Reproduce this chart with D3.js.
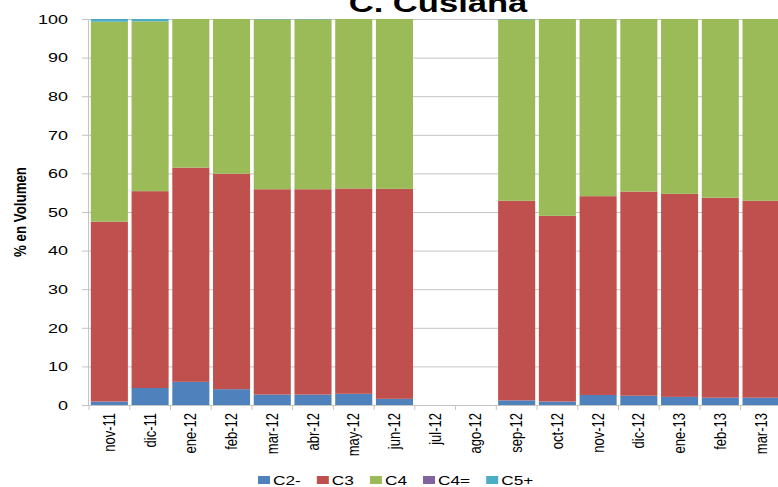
<!DOCTYPE html>
<html>
<head>
<meta charset="utf-8">
<script src="https://cdn.jsdelivr.net/npm/d3@7"></script>
<style>
  body { margin: 0; background: #fff; }
  svg { display: block; font-family: "Liberation Sans", Arial, sans-serif; }
</style>
</head>
<body>
<div id="chart"></div>
<script>
// Data (% en volumen)
const months = ['nov-11', 'dic-11', 'ene-12', 'feb-12', 'mar-12', 'abr-12', 'may-12', 'jun-12',
  'jul-12', 'ago-12', 'sep-12', 'oct-12', 'nov-12', 'dic-12', 'ene-13', 'feb-13', 'mar-13'];
const c2 = [0.9, 4.4, 6.0, 4.1, 2.7, 2.7, 2.9, 1.6, 0, 0, 1.2, 0.9, 2.6, 2.4, 2.1, 1.9, 1.9];
const c3 = [46.6, 51.0, 55.5, 55.8, 53.2, 53.2, 53.2, 54.4, 0, 0, 51.7, 48.1, 51.5, 52.9, 52.6, 51.8, 51.0];
const c4 = [51.8, 44.0, 38.5, 40.1, 44.0, 44.0, 43.9, 44.0, 0, 0, 47.0, 51.0, 45.9, 44.7, 45.3, 46.3, 47.1];
const c4eq = [0, 0, 0, 0, 0, 0, 0, 0, 0, 0, 0, 0, 0, 0, 0, 0, 0];
const c5 = [0.7, 0.6, 0, 0, 0.1, 0.1, 0, 0, 0, 0, 0.1, 0, 0, 0, 0, 0, 0];
const seriesNames = ['C2-', 'C3', 'C4', 'C4=', 'C5+'];
const seriesColors = ['#4f81bd', '#c0504d', '#9bbb59', '#8064a2', '#4bacc6'];
const yTicks = [0, 10, 20, 30, 40, 50, 60, 70, 80, 90, 100];

const svgWidth = 778;
const svgHeight = 487;
const stretch = 1.33; // text in the reference is drawn a bit wide

const table = months.map((m, i) => ({
  month: m, 'C2-': c2[i], 'C3': c3[i], 'C4': c4[i], 'C4=': c4eq[i], 'C5+': c5[i]
}));
const stacked = d3.stack().keys(seriesNames)(table);

const svg = d3.select('#chart')
  .append('svg')
  .attr('width', svgWidth)
  .attr('height', svgHeight);

// Scales
const xScale = d3.scaleBand()
  .domain(months)
  .range([89, 781.4])
  .paddingInner(0.09)
  .paddingOuter(0.045);

const yScale = d3.scaleLinear()
  .domain([0, 100])
  .range([405, 19]);

const color = d3.scaleOrdinal().domain(seriesNames).range(seriesColors);

// Gridlines
svg.append('g')
  .selectAll('line')
  .data(yTicks)
  .enter()
  .append('line')
  .attr('x1', 82)
  .attr('x2', svgWidth)
  .attr('y1', d => yScale(d) + 0.5)
  .attr('y2', d => yScale(d) + 0.5)
  .attr('stroke', '#c4c4c4')
  .attr('stroke-width', 1);

// Axis line on the left
svg.append('line')
  .attr('x1', 88.5).attr('x2', 88.5)
  .attr('y1', yScale(100)).attr('y2', yScale(0))
  .attr('stroke', '#c4c4c4');

// Bars
svg.append('g')
  .selectAll('g')
  .data(stacked)
  .enter()
  .append('g')
  .attr('fill', d => color(d.key))
  .selectAll('rect')
  .data(d => d)
  .enter()
  .append('rect')
  .attr('x', d => xScale(d.data.month))
  .attr('width', xScale.bandwidth())
  .attr('y', d => yScale(d[1]))
  .attr('height', d => yScale(d[0]) - yScale(d[1]));

// Tick marks on the category axis (at band boundaries)
const step = xScale.step();
const x0 = xScale.range()[0];
svg.append('g')
  .selectAll('line')
  .data(d3.range(months.length + 1))
  .enter()
  .append('line')
  .attr('x1', i => x0 + i * step)
  .attr('x2', i => x0 + i * step)
  .attr('y1', yScale(0))
  .attr('y2', yScale(0) + 5)
  .attr('stroke', '#c4c4c4');

// Category labels, rotated
svg.append('g')
  .selectAll('text')
  .data(months)
  .enter()
  .append('text')
  .attr('transform', d => `translate(${xScale(d) + xScale.bandwidth() / 2},413) scale(1.22,1) rotate(-90)`)
  .attr('text-anchor', 'end')
  .attr('dy', '0.35em')
  .style('font-size', '13px')
  .style('fill', '#000')
  .text(d => d);

// Y tick labels
svg.append('g')
  .selectAll('text')
  .data(yTicks)
  .enter()
  .append('text')
  .attr('transform', d => `translate(68,${yScale(d)}) scale(${stretch},1)`)
  .attr('text-anchor', 'end')
  .attr('dy', '0.35em')
  .style('font-size', '13.5px')
  .style('fill', '#000')
  .text(d => d);

// Y axis title
svg.append('text')
  .attr('transform', 'translate(20,212) scale(1.15,1) rotate(-90)')
  .attr('text-anchor', 'middle')
  .attr('dy', '0.35em')
  .attr('textLength', 90)
  .attr('lengthAdjust', 'spacingAndGlyphs')
  .style('font-size', '14px')
  .style('font-weight', 'bold')
  .style('fill', '#000')
  .text('% en Volumen');

// Chart title (cut at the top, as in the reference)
svg.append('text')
  .attr('transform', `translate(438,12) scale(${stretch},1)`)
  .attr('text-anchor', 'middle')
  .style('font-size', '26px')
  .style('font-weight', 'bold')
  .style('fill', '#000')
  .text('C. Cusiana');

// Legend
const legend = svg.append('g');
let lx = 258;
seriesNames.forEach((name, i) => {
  legend.append('rect')
    .attr('x', lx)
    .attr('y', 476)
    .attr('width', 12)
    .attr('height', 8)
    .attr('fill', seriesColors[i]);
  const t = legend.append('text')
    .attr('transform', `translate(${lx + 15},480) scale(${stretch},1)`)
    .attr('dy', '0.35em')
    .style('font-size', '13px')
    .style('fill', '#000')
    .text(name);
  lx += 15 + t.node().getComputedTextLength() * stretch + 16;
});
</script>
</body>
</html>
